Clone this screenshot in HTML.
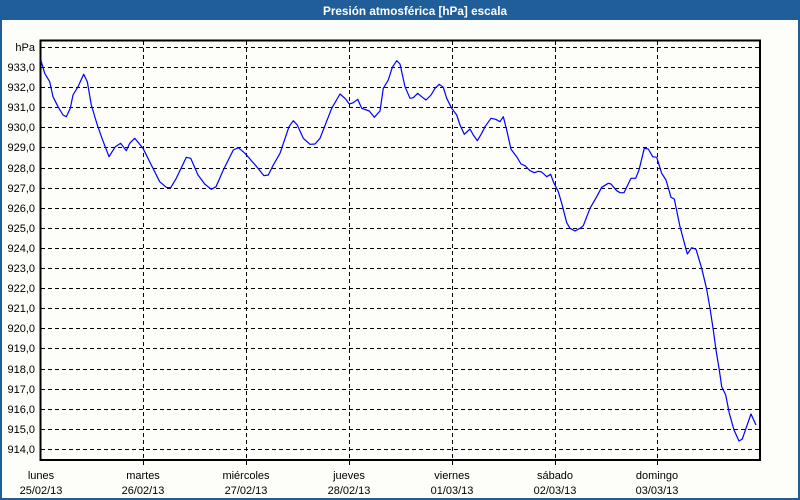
<!DOCTYPE html>
<html><head><meta charset="utf-8"><style>
html,body{margin:0;padding:0;width:800px;height:500px;overflow:hidden;background:#fdfdfa;}
svg{display:block;}
text{font-family:"Liberation Sans","DejaVu Sans",sans-serif;}
</style></head><body>
<svg width="800" height="500" viewBox="0 0 800 500" xmlns="http://www.w3.org/2000/svg">
<rect x="0" y="0" width="800" height="500" fill="#fdfdfa"/>
<rect x="1" y="1" width="798" height="498" fill="none" stroke="#1f5e98" stroke-width="2"/>
<rect x="0" y="0" width="800" height="20" fill="#1f5e98"/>
<text x="323" y="15" text-anchor="start" fill="#ffffff" font-size="12" font-weight="bold" textLength="184" lengthAdjust="spacingAndGlyphs">Presión atmosférica [hPa] escala</text>

<g stroke="#000" stroke-width="1" stroke-dasharray="4,3" fill="none" shape-rendering="crispEdges">
<line x1="41" y1="47.5" x2="760" y2="47.5"/>
<line x1="41" y1="67.5" x2="760" y2="67.5"/>
<line x1="41" y1="87.5" x2="760" y2="87.5"/>
<line x1="41" y1="107.5" x2="760" y2="107.5"/>
<line x1="41" y1="127.5" x2="760" y2="127.5"/>
<line x1="41" y1="147.5" x2="760" y2="147.5"/>
<line x1="41" y1="168.5" x2="760" y2="168.5"/>
<line x1="41" y1="188.5" x2="760" y2="188.5"/>
<line x1="41" y1="208.5" x2="760" y2="208.5"/>
<line x1="41" y1="228.5" x2="760" y2="228.5"/>
<line x1="41" y1="248.5" x2="760" y2="248.5"/>
<line x1="41" y1="268.5" x2="760" y2="268.5"/>
<line x1="41" y1="288.5" x2="760" y2="288.5"/>
<line x1="41" y1="308.5" x2="760" y2="308.5"/>
<line x1="41" y1="328.5" x2="760" y2="328.5"/>
<line x1="41" y1="348.5" x2="760" y2="348.5"/>
<line x1="41" y1="369.5" x2="760" y2="369.5"/>
<line x1="41" y1="389.5" x2="760" y2="389.5"/>
<line x1="41" y1="409.5" x2="760" y2="409.5"/>
<line x1="41" y1="429.5" x2="760" y2="429.5"/>
<line x1="41" y1="449.5" x2="760" y2="449.5"/>
<line x1="143.5" y1="41" x2="143.5" y2="468"/>
<line x1="246.5" y1="41" x2="246.5" y2="468"/>
<line x1="349.5" y1="41" x2="349.5" y2="468"/>
<line x1="452.5" y1="41" x2="452.5" y2="468"/>
<line x1="555.5" y1="41" x2="555.5" y2="468"/>
<line x1="657.5" y1="41" x2="657.5" y2="468"/>
</g>

<rect x="40.5" y="40.5" width="719.5" height="419.5" fill="none" stroke="#000" stroke-width="2" shape-rendering="crispEdges"/>

<g font-size="11" fill="#000" text-anchor="end">
<text x="35" y="51">hPa</text>
<text x="35" y="71">933,0</text>
<text x="35" y="91">932,0</text>
<text x="35" y="111">931,0</text>
<text x="35" y="131">930,0</text>
<text x="35" y="151">929,0</text>
<text x="35" y="172">928,0</text>
<text x="35" y="192">927,0</text>
<text x="35" y="212">926,0</text>
<text x="35" y="232">925,0</text>
<text x="35" y="252">924,0</text>
<text x="35" y="272">923,0</text>
<text x="35" y="292">922,0</text>
<text x="35" y="312">921,0</text>
<text x="35" y="332">920,0</text>
<text x="35" y="352">919,0</text>
<text x="35" y="373">918,0</text>
<text x="35" y="393">917,0</text>
<text x="35" y="413">916,0</text>
<text x="35" y="433">915,0</text>
<text x="35" y="453">914,0</text>
</g>

<g font-size="11" fill="#000" text-anchor="middle">
<text x="41" y="479">lunes</text><text x="41" y="494">25/02/13</text>
<text x="143" y="479">martes</text><text x="143" y="494">26/02/13</text>
<text x="246" y="479">miércoles</text><text x="246" y="494">27/02/13</text>
<text x="349" y="479">jueves</text><text x="349" y="494">28/02/13</text>
<text x="452" y="479">viernes</text><text x="452" y="494">01/03/13</text>
<text x="555" y="479">sábado</text><text x="555" y="494">02/03/13</text>
<text x="657" y="479">domingo</text><text x="657" y="494">03/03/13</text>
</g>

<polyline fill="none" stroke="#0000ff" stroke-width="1.2" stroke-linejoin="round" points="
41,60 41.3,61.7 44.7,73.3 49.7,81.7 53,96.7 58,106.7 63,115 66.3,116.7 70.3,108.3 73,95 78,86.7 83.7,74.3 87.3,81.7 91.3,105 97.3,125 102,138.3 109,156.7 115.3,146.7 120.7,143.3 126.3,150.7 129.7,143.3 134.7,138.3 143,148.3 151.3,165 159.7,181.7 166.3,187.3 170.7,187.7 176.3,178.3 186.3,157.3 190.7,158.3 198,175 204.7,184 211.3,189.3 216,186.7 223.3,170 233.3,150 238.3,147.7 245,153.3 256.7,166.7 264,175.7 268.3,175 273.3,165 280,153.3 289,126.7 293.3,120.7 297.3,125 303.3,138.3 310,144.3 315,144 320,138.3 331.7,108.3 340,94 345,98.3 349.3,104 353.3,102.7 357.7,99.3 361.7,108.3 369.3,111 374.3,117.3 380,111 383.3,88.3 388.3,80 392.3,67.3 396.7,60.7 400,64 405,86.7 410,98.3 413.3,97.7 417.7,93.3 421.7,96.7 426,100 431,95 435,88.3 439.3,84.3 443.3,87.3 446.7,98.3 451.7,108.3 456.7,115 460,125 464.3,134.3 470,129 473.3,135 477.3,140.7 481.7,133.3 485,126.7 491,118.3 495.7,119.3 500,121.7 503.3,116.7 506.7,130 511,149.3 516.7,156.7 521,164 525,165.7 530,170.7 534.3,172.7 538.3,171.3 541.7,172 546.7,176.7 550.7,174.3 553.3,181.7 558.3,191.7 561.7,203.3 566.7,222.7 570,228.3 575,231 580,228.3 583.3,225.7 590,208.3 596.7,196.7 601.7,187.3 608.3,183.3 611,184 616.7,190.7 620,192.7 624,192.7 631,178.3 635.7,178.3 639,170 644.3,148.3 648.3,149 652.7,156.7 656.7,157.3 661.7,173.3 666,180 671,197.3 674.3,199 680,226.7 687.3,254 691.7,247.7 696,249.3 701.7,268.3 706.7,289.3 710,308.3 713.3,330 716,350 719.3,370 721.7,386.7 725.7,395 729.3,413.3 734,430 739,441 742.3,439 746,428.3 751,414 756,425"/>
</svg>
</body></html>
